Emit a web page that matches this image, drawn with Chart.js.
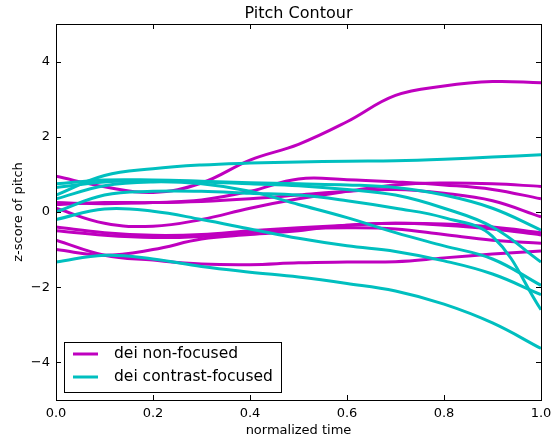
<!DOCTYPE html>
<html>
<head>
<meta charset="utf-8">
<script src="https://cdn.jsdelivr.net/npm/chart.js@4"></script>
<style>
  html, body { margin: 0; padding: 0; background: #fff; }
  #wrap { width: 555px; height: 440px; }
</style>
</head>
<body>
<div id="wrap"><canvas id="chart" width="555" height="440"></canvas></div>
<script>
// normalized time grid shared by every contour
const timeGrid = [0, 0.1, 0.2, 0.3, 0.4, 0.5, 0.6, 0.7, 0.8, 0.9, 1.0];

// dei non-focused (magenta)
const nonFocused1 = [0.95, 0.67, 0.52, 0.77, 1.38, 1.8, 2.4, 3.1, 3.35, 3.47, 3.44];
const nonFocused2 = [0.25, 0.22, 0.25, 0.32, 0.55, 0.88, 0.86, 0.8, 0.72, 0.6, 0.35];
const nonFocused3 = [0.1, -0.3, -0.38, -0.2, 0.1, 0.35, 0.55, 0.72, 0.77, 0.75, 0.68];
const nonFocused4 = [0.2, 0.25, 0.25, 0.28, 0.35, 0.45, 0.55, 0.6, 0.5, 0.3, -0.13];
const nonFocused5 = [-0.4, -0.55, -0.62, -0.6, -0.5, -0.42, -0.35, -0.3, -0.35, -0.45, -0.61];
const nonFocused6 = [-0.5, -0.62, -0.68, -0.65, -0.55, -0.45, -0.42, -0.45, -0.6, -0.75, -0.83];
const nonFocused7 = [-1.0, -1.15, -1.0, -0.72, -0.6, -0.5, -0.35, -0.3, -0.32, -0.4, -0.55];
const nonFocused8 = [-0.75, -1.15, -1.28, -1.38, -1.4, -1.35, -1.33, -1.32, -1.22, -1.12, -1.04];

// dei contrast-focused (cyan)
const focused1 = [0.45, 0.97, 1.15, 1.25, 1.3, 1.33, 1.35, 1.36, 1.4, 1.46, 1.52];
const focused2 = [-0.2, 0.08, 0.02, -0.2, -0.45, -0.7, -0.9, -1.05, -1.3, -1.65, -2.2];
const focused3 = [-1.33, -1.15, -1.25, -1.45, -1.6, -1.73, -1.9, -2.1, -2.45, -2.95, -3.63];
const focused4 = [0.75, 0.85, 0.85, 0.82, 0.78, 0.75, 0.72, 0.65, 0.45, 0.1, -0.48];
const focused5 = [0.65, 0.8, 0.82, 0.8, 0.75, 0.7, 0.6, 0.45, 0.1, -0.4, -1.33];
const focused6 = [0.0, 0.45, 0.55, 0.55, 0.5, 0.45, 0.3, 0.1, -0.15, -0.65, -2.6];
const focused7 = [0.35, 0.7, 0.8, 0.75, 0.55, 0.2, -0.15, -0.55, -0.9, -1.25, -1.95];

const xTicks = [0, 0.2, 0.4, 0.6, 0.8, 1.0];
const yTicks = [-4, -2, 0, 2, 4];

const seriesNames = ['dei non-focused', 'dei contrast-focused'];
const titleText = 'Pitch Contour';

const MAGENTA = '#bf00bf';
const CYAN = '#00bfbf';

const nonFocused = [nonFocused1, nonFocused2, nonFocused3, nonFocused4, nonFocused5, nonFocused6, nonFocused7, nonFocused8];
const focused = [focused1, focused2, focused3, focused4, focused5, focused6, focused7];

const toPoints = (vals) => vals.map((v, i) => ({ x: timeGrid[i], y: v }));

const datasets = [];
nonFocused.forEach((vals) => {
  datasets.push({ label: seriesNames[0], data: toPoints(vals), borderColor: MAGENTA, order: 2 });
});
focused.forEach((vals) => {
  datasets.push({ label: seriesNames[1], data: toPoints(vals), borderColor: CYAN, order: 1 });
});

// frame, inward ticks, title and legend box in matplotlib style
const mplStyle = {
  id: 'mplStyle',
  afterDraw(chart) {
    const { ctx, chartArea: a, scales } = chart;
    ctx.save();
    ctx.strokeStyle = '#000';
    ctx.lineWidth = 1;
    ctx.strokeRect(a.left + 0.5, a.top + 0.5, a.right - a.left, a.bottom - a.top);

    ctx.beginPath();
    xTicks.forEach(t => {
      const px = Math.round(scales.x.getPixelForValue(t)) + 0.5;
      ctx.moveTo(px, a.bottom); ctx.lineTo(px, a.bottom - 5);
      ctx.moveTo(px, a.top); ctx.lineTo(px, a.top + 5);
    });
    yTicks.forEach(t => {
      const py = Math.round(scales.y.getPixelForValue(t)) + 0.5;
      ctx.moveTo(a.left, py); ctx.lineTo(a.left + 5, py);
      ctx.moveTo(a.right, py); ctx.lineTo(a.right - 5, py);
    });
    ctx.stroke();

    // title
    ctx.fillStyle = '#000';
    ctx.font = '16px "DejaVu Sans"';
    ctx.textAlign = 'center';
    ctx.textBaseline = 'middle';
    ctx.fillText(titleText, (a.left + a.right) / 2, 14);

    // legend
    const lx = a.left + 8, ly = a.bottom - 58, lw = 217, lh = 50;
    ctx.fillStyle = '#fff';
    ctx.fillRect(lx, ly, lw, lh);
    ctx.strokeRect(lx + 0.5, ly + 0.5, lw, lh);
    const colors = [MAGENTA, CYAN];
    ctx.font = '15.5px "DejaVu Sans"';
    ctx.textAlign = 'left';
    seriesNames.forEach((name, i) => {
      const yy = ly + 12 + i * 23;
      ctx.strokeStyle = colors[i];
      ctx.lineWidth = 3;
      ctx.beginPath();
      ctx.moveTo(lx + 9, yy); ctx.lineTo(lx + 34, yy);
      ctx.stroke();
      ctx.fillStyle = '#000';
      ctx.fillText(name, lx + 50, yy);
    });
    ctx.restore();
  }
};

new Chart(document.getElementById('chart'), {
  type: 'line',
  data: { datasets },
  plugins: [mplStyle],
  options: {
    responsive: false,
    animation: false,
    layout: { padding: { top: 24, right: 14, left: 11, bottom: 0 } },
    elements: {
      line: { borderWidth: 3, tension: 0.4, fill: false },
      point: { radius: 0 }
    },
    plugins: {
      legend: { display: false },
      title: { display: false },
      tooltip: { enabled: false }
    },
    scales: {
      x: {
        type: 'linear',
        min: 0,
        max: 1,
        afterBuildTicks: (s) => { s.ticks = xTicks.map(v => ({ value: v })); },
        afterFit: (s) => { s.height = 40; s.paddingLeft = 0; s.paddingRight = 0; },
        grid: { display: false, drawTicks: false },
        border: { display: false },
        ticks: {
          color: '#000',
          font: { family: 'DejaVu Sans', size: 13 },
          padding: 6,
          maxRotation: 0,
          callback: (v) => Number(v).toFixed(1)
        },
        title: {
          display: true,
          text: 'normalized time',
          color: '#000',
          font: { family: 'DejaVu Sans', size: 13 },
          padding: { top: 0, bottom: 2 }
        }
      },
      y: {
        type: 'linear',
        min: -5,
        max: 5,
        afterBuildTicks: (s) => { s.ticks = yTicks.map(v => ({ value: v })); },
        afterFit: (s) => { s.width = 45; },
        grid: { display: false, drawTicks: false },
        border: { display: false },
        ticks: {
          color: '#000',
          font: { family: 'DejaVu Sans', size: 13 },
          padding: 6,
          callback: (v) => (v < 0 ? '\u2212' + Math.abs(v) : String(v))
        },
        title: {
          display: true,
          text: 'z-score of pitch',
          color: '#000',
          font: { family: 'DejaVu Sans', size: 13 },
          padding: { top: 0, bottom: 0 }
        }
      }
    }
  }
});
</script>
</body>
</html>
